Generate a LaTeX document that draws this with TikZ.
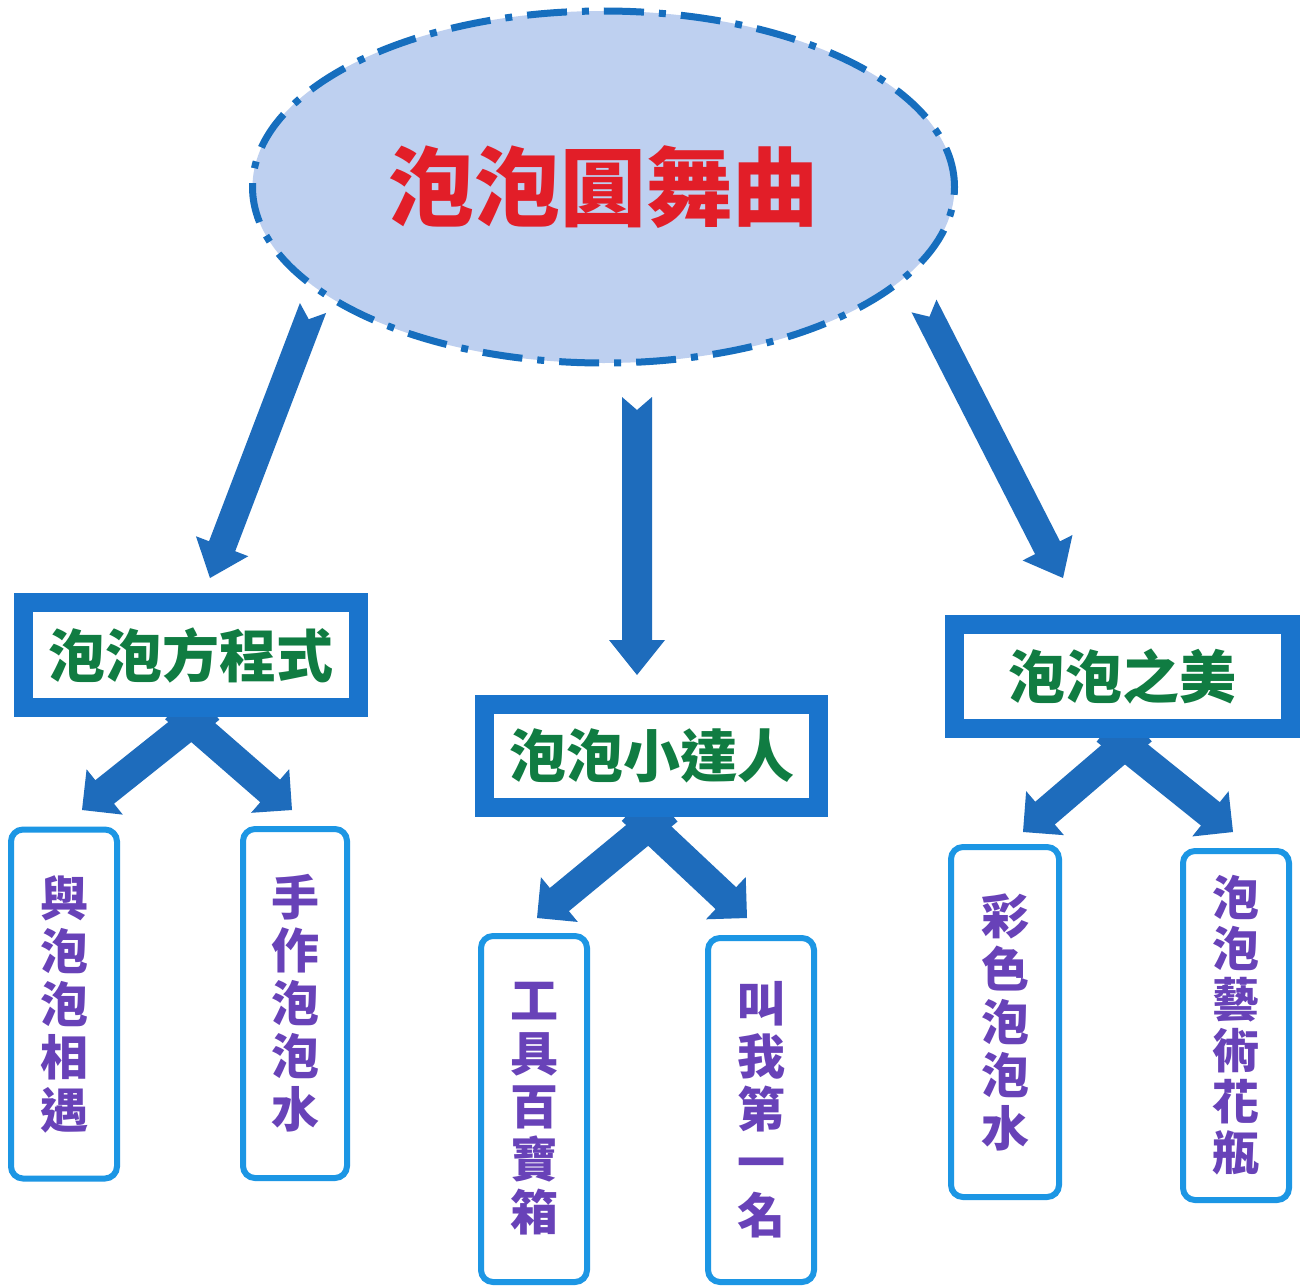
\documentclass[tikz,border=0pt]{standalone}
\usepackage{fontspec}
\newfontfamily\cjk{Noto Sans CJK TC}
\usetikzlibrary{calc,shapes.geometric}
\definecolor{arrowblue}{RGB}{30,108,188}
\definecolor{boxblue}{RGB}{26,116,204}
\definecolor{leafblue}{RGB}{28,150,228}
\definecolor{ellfill}{RGB}{190,208,240}
\definecolor{ellline}{RGB}{22,110,190}
\definecolor{titlered}{RGB}{226,30,40}
\definecolor{subgreen}{RGB}{16,124,66}
\definecolor{leafpurple}{RGB}{104,66,184}
\newcommand\blkarrow[6]{%
  \coordinate (hb) at ($(#2)!#5!(#1)$);
  \fill[arrowblue] ($(#1)!#3!90:(#2)$) -- ($(#1)!#6!(#2)$) -- ($(#1)!#3!-90:(#2)$)
    -- ($(hb)!#3!-90:(#2)$) -- ($(hb)!#4!-90:(#2)$) -- (#2)
    -- ($(hb)!#4!90:(#2)$) -- ($(hb)!#3!90:(#2)$) -- cycle;
}
\tikzset{
  rootnode/.style={ellipse, draw=ellline, fill=ellfill, line width=7pt,
    dash pattern=on 40pt off 15pt on 7pt off 15pt,
    minimum width=702pt, minimum height=352pt, inner sep=0pt,
    font=\cjk\bfseries\fontsize{86}{86}\selectfont, text=titlered},
  midbox/.style={rectangle, draw=boxblue, fill=white, line width=19pt,
    inner sep=0pt, font=\cjk\bfseries\fontsize{57}{57}\selectfont, text=subgreen},
  leafbox/.style={rectangle, draw=leafblue, fill=white, line width=6pt,
    rounded corners=12pt, inner sep=0pt, align=center,
    font=\cjk\bfseries\fontsize{48}{53}\selectfont, text=leafpurple}
}
\begin{document}
\begin{tikzpicture}[x=1pt,y=-1pt]
\useasboundingbox[fill=white] (0,0) rectangle (1305,1287);
% root
\node[rootnode] (root) at (603.5,187) {泡泡圓舞曲};
% big arrows
\coordinate (a1t) at (313,308);
\coordinate (a1h) at (210,578);
\coordinate (a2t) at (637,397);
\coordinate (a2h) at (637,675);
\coordinate (a3t) at (924,306);
\coordinate (a3h) at (1063,578);
\blkarrow{a1t}{a1h}{14pt}{28pt}{34pt}{12pt}
\blkarrow{a2t}{a2h}{15pt}{28pt}{35pt}{13pt}
\blkarrow{a3t}{a3h}{14pt}{28pt}{34pt}{12pt}
% small arrows
\coordinate (s1t) at (210,708);
\coordinate (s1h) at (82,810);
\coordinate (s2t) at (175,708);
\coordinate (s2h) at (292,810);
\coordinate (s3t) at (668,810);
\coordinate (s3h) at (537,918);
\coordinate (s4t) at (632,810);
\coordinate (s4h) at (747,918);
\coordinate (s5t) at (1142,730);
\coordinate (s5h) at (1023,832);
\coordinate (s6t) at (1106,730);
\coordinate (s6h) at (1233,832);
\blkarrow{s1t}{s1h}{15pt}{29pt}{29pt}{0pt}
\blkarrow{s2t}{s2h}{15pt}{29pt}{29pt}{0pt}
\blkarrow{s3t}{s3h}{15pt}{29pt}{29pt}{0pt}
\blkarrow{s4t}{s4h}{15pt}{29pt}{29pt}{0pt}
\blkarrow{s5t}{s5h}{15pt}{29pt}{29pt}{0pt}
\blkarrow{s6t}{s6h}{15pt}{29pt}{29pt}{0pt}
% middle boxes
\node[midbox, minimum width=335pt, minimum height=105pt] (b1) at (191,655) {泡泡方程式};
\node[midbox, minimum width=334pt, minimum height=103pt] (b2) at (651.5,755.5) {泡泡小達人};
\node[midbox, minimum width=336pt, minimum height=104pt] (b3) at (1122.5,676.5) {泡泡之美};
% leaves
\node[leafbox, minimum width=106pt, minimum height=349pt] (l1) at (64,1004) {與\\泡\\泡\\相\\遇};
\node[leafbox, minimum width=104pt, minimum height=349pt] (l2) at (295,1003.5) {手\\作\\泡\\泡\\水};
\node[leafbox, minimum width=106pt, minimum height=346pt] (l3) at (534,1109) {工\\具\\百\\寶\\箱};
\node[leafbox, minimum width=106pt, minimum height=344pt] (l4) at (761,1110) {叫\\我\\第\\一\\名};
\node[leafbox, minimum width=108pt, minimum height=350pt] (l5) at (1005,1022) {彩\\色\\泡\\泡\\水};
\node[leafbox, minimum width=106pt, minimum height=349pt, font=\cjk\bfseries\fontsize{47}{51}\selectfont] (l6) at (1236,1025.5) {泡\\泡\\藝\\術\\花\\瓶};
\end{tikzpicture}
\end{document}
